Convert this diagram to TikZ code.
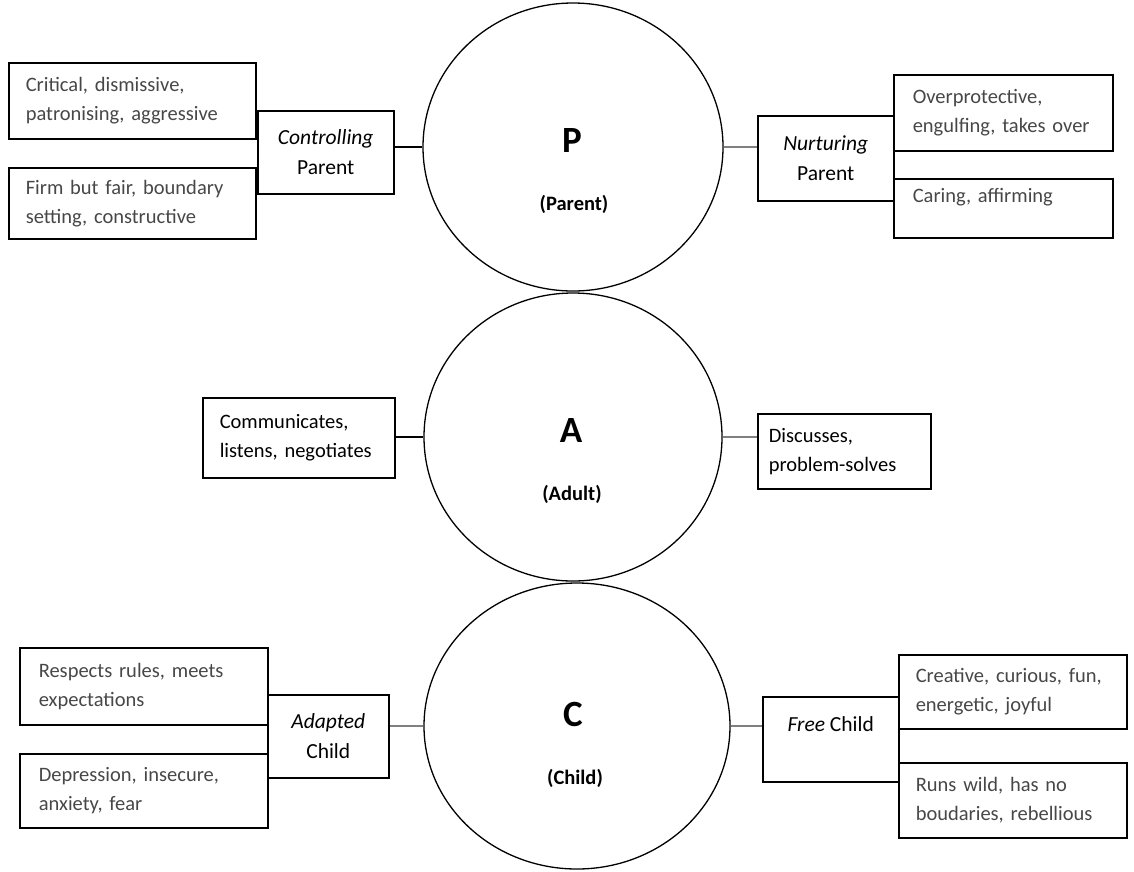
\documentclass[tikz,border=0pt]{standalone}
\usepackage{fontspec}
\setmainfont{Carlito}
\usetikzlibrary{shapes.geometric}
\frenchspacing
\newcommand{\leafnode}[7]{% name, x1, y1, x2, y2, indent, text
  \pgfmathsetmacro\LWd{#4-#2}\pgfmathsetmacro\LHt{#5-#3}\pgfmathsetmacro\TWd{#4-#2-2*#6}%
  \node[leafbox, minimum width=\LWd pt, minimum height=\LHt pt, text width=\TWd pt, anchor=north west] (#1) at (#2,#3) {#7};}
\newcommand{\labnode}[6]{% name, x1, y1, x2, y2, text
  \pgfmathsetmacro\LWd{#4-#2}\pgfmathsetmacro\LHt{#5-#3}%
  \node[labbox, minimum width=\LWd pt, minimum height=\LHt pt, anchor=north west] (#1) at (#2,#3) {#6};}
\begin{document}
\begin{tikzpicture}[x=1pt,y=-1pt,
  leafbox/.style={draw, line width=1.5pt, rectangle, inner sep=0pt, align=left, text=black!72,
    font=\fontsize{20.5}{29}\selectfont\frenchspacing},
  labbox/.style={draw, line width=1.5pt, rectangle, inner sep=0pt, align=center,
    font=\fontsize{21.5}{30}\selectfont\frenchspacing},
  ego/.style={draw, ellipse, line width=1.3pt, inner sep=0pt},
  big/.style={font=\fontsize{37}{40}\selectfont\bfseries},
  sub/.style={font=\fontsize{20.5}{24}\selectfont\bfseries},
  conn/.style={line width=1.1pt},
  lconn/.style={line width=1.1pt, black!50}]
\useasboundingbox (0,0) rectangle (1134,871);

% ego states
\node[ego, minimum width=300pt, minimum height=288pt] (P) at (573,147) {};
\node[ego, minimum width=298pt, minimum height=288pt] (A) at (573,437) {};
\node[ego, minimum width=306pt, minimum height=286pt] (C) at (577,726) {};
\node[big] (Pl) at (572,140) {P};
\node[sub] (Ps) at (574,204) {(Parent)};
\node[big] (Al) at (571,430) {A};
\node[sub] (As) at (572,494) {(Adult)};
\node[big] (Cl) at (573,714) {C};
\node[sub] (Cs) at (575,778) {(Child)};

% Parent, left
\labnode{ctrl}{257}{110}{393}{193}{\textit{Controlling}\\Parent}
\leafnode{crit}{8}{62}{255}{138}{17}{Critical, dismissive,\\patronising, aggressive}
\leafnode{firm}{8}{167}{255}{238}{17}{Firm but fair, boundary\\setting, constructive}

% Parent, right
\labnode{nurt}{757}{115}{893}{200}{\textit{Nurturing}\\Parent}
\leafnode{over}{893}{74}{1112}{150}{19}{Overprotective,\\engulfing, takes over}
\leafnode{car}{893}{178}{1112}{237}{19}{Caring, affirming\\[-4pt]\mbox{}}

% Adult
\leafnode{comm}{202}{397}{394}{477}{17}{\textcolor{black}{Communicates,\\listens, negotiates}}
\leafnode{disc}{757}{413}{930}{488}{11}{\textcolor{black}{Discusses,\\problem-solves}}

% Child, left
\labnode{adap}{267}{694}{388}{777}{\textit{Adapted}\\Child}
\leafnode{resp}{19}{647}{267}{724}{19}{Respects rules, meets\\expectations}
\leafnode{depr}{19}{753}{267}{827}{19}{Depression, insecure,\\anxiety, fear}

% Child, right
\labnode{free}{762}{696}{898}{781}{\textit{Free} Child\\\mbox{}}
\leafnode{crea}{898}{654}{1126}{728}{17}{Creative, curious, fun,\\energetic, joyful}
\leafnode{runs}{898}{762}{1126}{837}{17}{Runs wild, has no\\boudaries, rebellious}

% connectors
\draw[conn] (P.west) -- (P.west -| ctrl.east);
\draw[lconn] (P.east) -- (P.east -| nurt.west);
\draw[conn] (A.west) -- (A.west -| comm.east);
\draw[lconn] (A.east) -- (A.east -| disc.west);
\draw[lconn] (C.west) -- (C.west -| adap.east);
\draw[lconn] (C.east) -- (C.east -| free.west);
\end{tikzpicture}
\end{document}
